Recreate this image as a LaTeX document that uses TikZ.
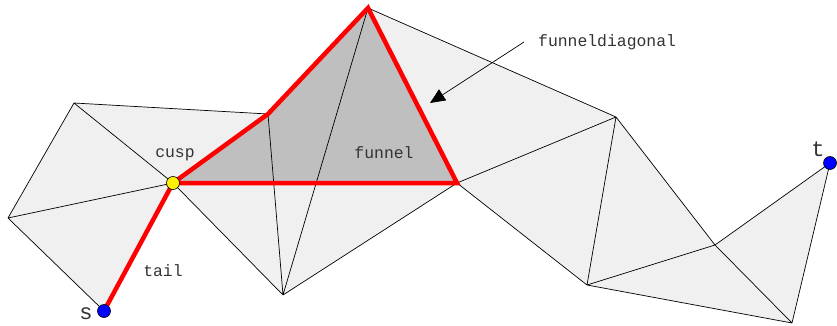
\documentclass[tikz,border=0pt]{standalone}
\usepackage{fontspec}
\setmonofont{Liberation Mono}
\usetikzlibrary{arrows.meta}
\begin{document}
\begin{tikzpicture}[x=1pt,y=-1pt,
  edge/.style={draw=black,line width=0.7pt},
  funnelline/.style={draw=red,line width=4.5pt},
  vtx/.style={circle,draw=black,line width=0.6pt,minimum size=13pt,inner sep=0pt},
  lbl/.style={font=\ttfamily\fontsize{16.4}{18}\selectfont,text=black!80,inner sep=0pt},
  big/.style={font=\ttfamily\fontsize{22}{24}\selectfont,text=black!80,inner sep=0pt}]
\useasboundingbox (0,0) rectangle (837,326);
\coordinate (A) at (74,103);
\coordinate (B) at (8,218);
\coordinate (C) at (173,183);
\coordinate (S) at (104,311);
\coordinate (D) at (268,114);
\coordinate (E) at (368,8);
\coordinate (F) at (283,295);
\coordinate (G) at (457,183);
\coordinate (H) at (616,117);
\coordinate (I) at (587,285);
\coordinate (J) at (715,245);
\coordinate (K) at (792,323);
\coordinate (T) at (830,163);
% light fill
\fill[black!6] (A) -- (D) -- (E) -- (H) -- (J) -- (T) -- (K) -- (I) -- (G) -- (F) -- (C) -- (S) -- (B) -- cycle;
% funnel fill
\fill[black!25] (C) -- (D) -- (E) -- (G) -- cycle;
% triangulation edges
\draw[edge] (A) -- (B) (B) -- (C) (A) -- (C) (B) -- (S) (A) -- (D)
  (C) -- (F) (D) -- (F) (E) -- (F) (F) -- (G) (E) -- (H) (G) -- (H)
  (G) -- (I) (H) -- (I) (H) -- (J) (I) -- (J) (I) -- (K) (J) -- (K)
  (J) -- (T) (K) -- (T);
% funnel and tail
\draw[funnelline] (S) -- (C);
\draw[funnelline] (C) -- (D) -- (E) -- (G) -- cycle;
% points
\node[vtx,fill=blue] (s) at (S) {};
\node[vtx,fill=blue] (t) at (T) {};
\node[vtx,fill=yellow] (cusp) at (C) {};
% labels
\node[lbl] (cusplbl) at (175,155) {cusp};
\node[lbl] (taillbl) at (163,271) {tail};
\node[lbl] (funnellbl) at (384,153) {funnel};
\node[lbl,anchor=west] (diaglbl) at (538,42) {funneldiagonal};
\node[big] (slbl) at (86,314) {s};
\node[big] (tlbl) at (818,149) {t};
\coordinate (arrstart) at (524,42);
\coordinate (arrend) at (430,103);
\draw[edge,-{Triangle[length=15pt,width=13pt]}] (arrstart) -- (arrend);
\end{tikzpicture}
\end{document}
